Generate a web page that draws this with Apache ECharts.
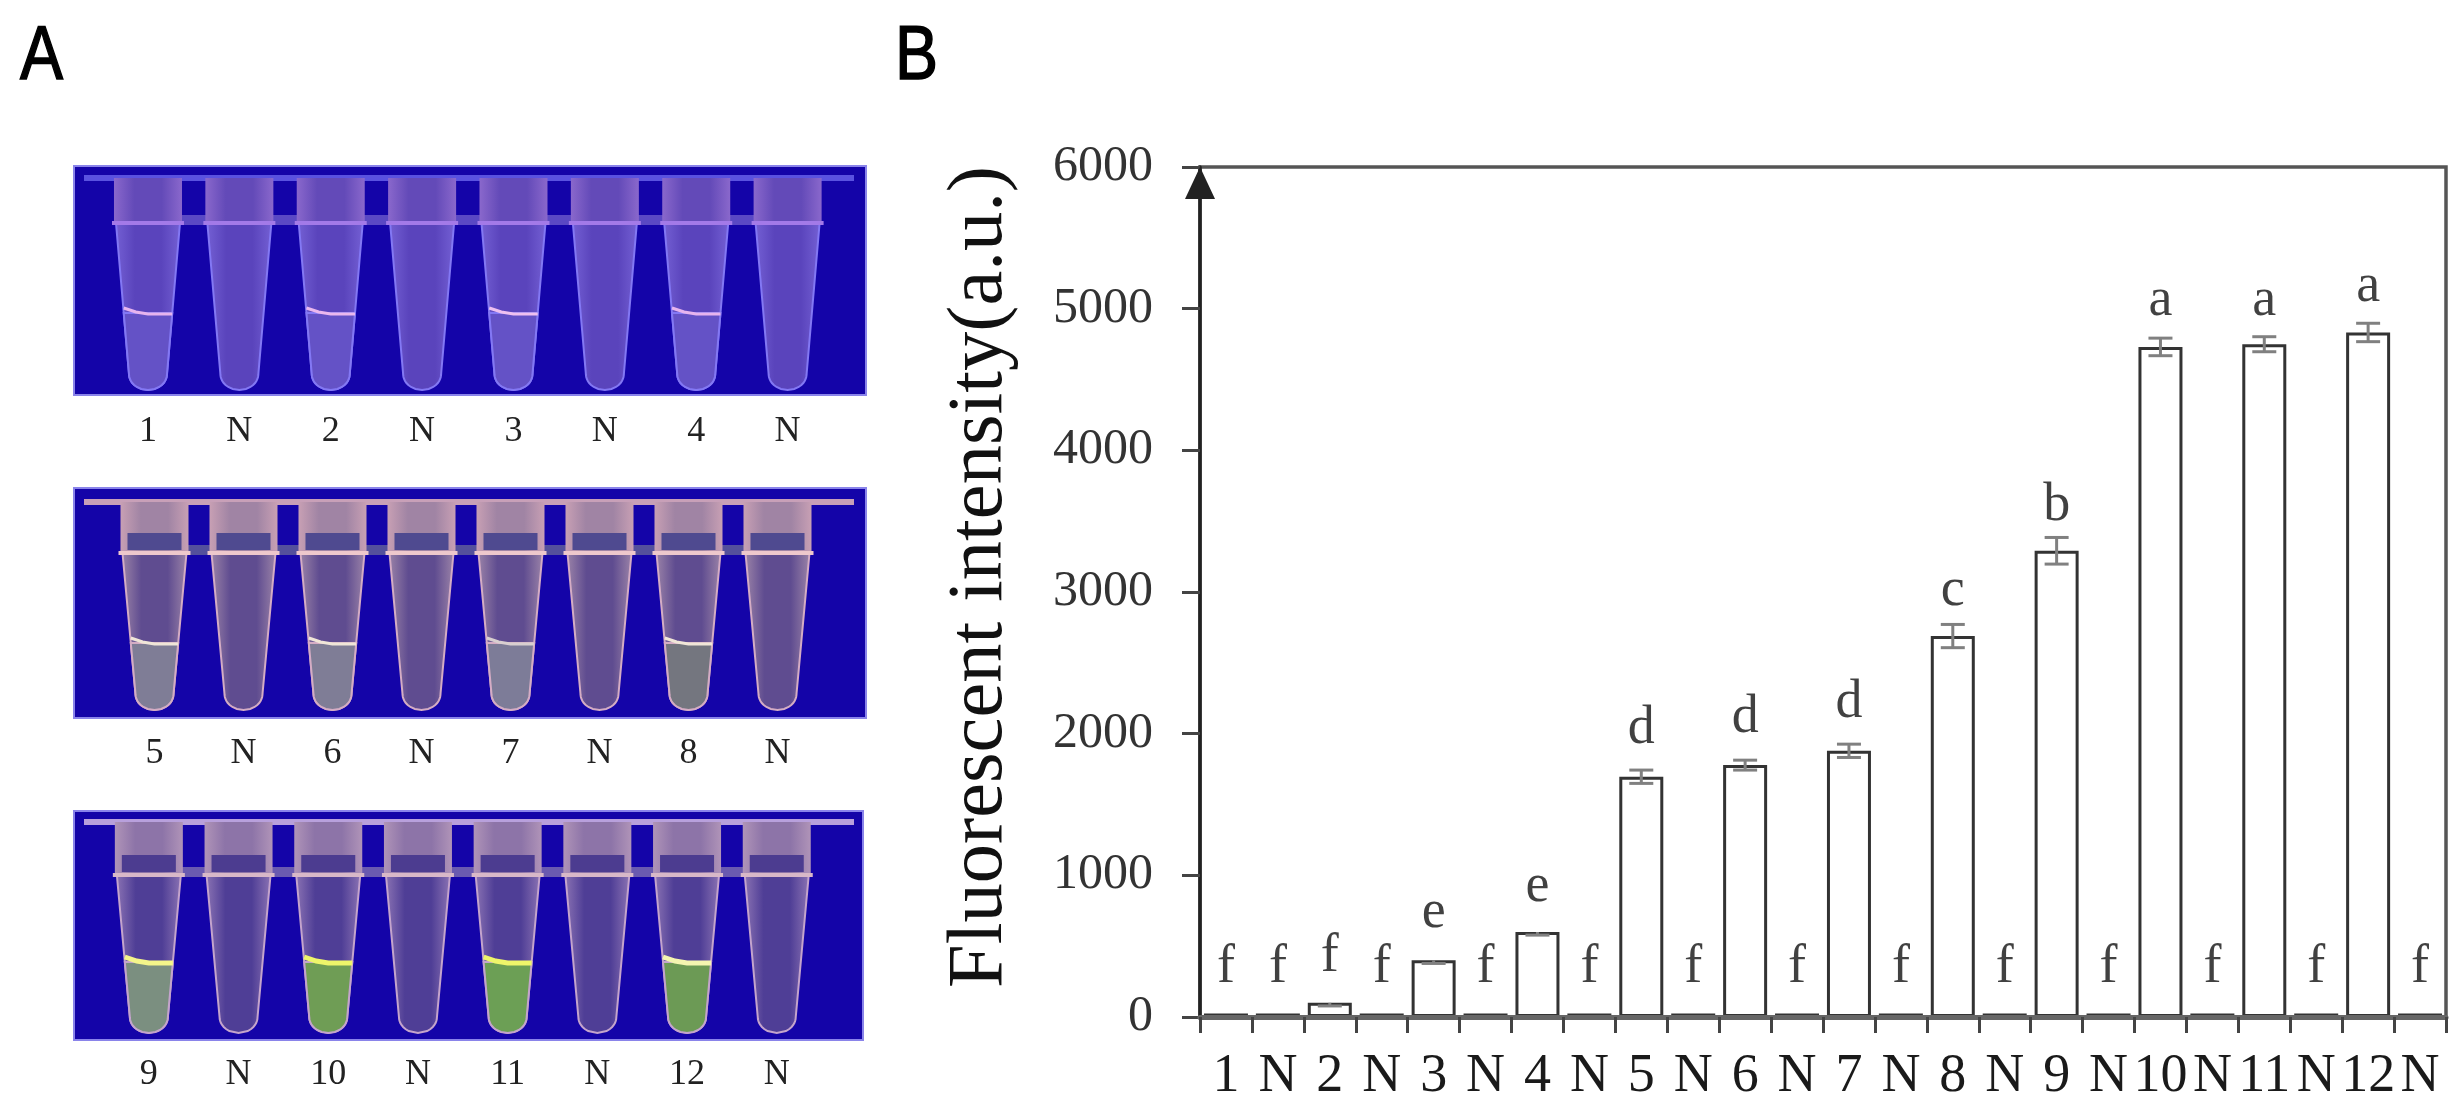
<!DOCTYPE html>
<html><head><meta charset="utf-8">
<style>html,body{margin:0;padding:0;background:#fff}#c{width:2462px;height:1115px}</style>
<script src="https://cdn.jsdelivr.net/npm/echarts@6/dist/echarts.min.js"></script>
</head><body><div id="c"></div>
<script>
// ---- Panel B data ----
const categories = ['1','N','2','N','3','N','4','N','5','N','6','N','7','N','8','N','9','N','10','N','11','N','12','N'];
const intensity  = [25,25,100,25,400,25,600,25,1696,25,1778,25,1879,25,2689,25,3291,25,4730,25,4749,25,4832,25];
const errorUp    = [0,0,0,0,0,0,0,0,47,0,35,0,47,0,82,0,94,0,62,0,53,0,65,0];
const errorDown  = [0,0,22,0,22,0,22,0,47,0,35,0,47,0,82,0,94,0,62,0,53,0,65,0];
const letters    = ['f','f','f','f','e','f','e','f','d','f','d','f','d','f','c','f','b','f','a','f','a','f','a','f'];
const letterBase = [250,250,325,250,637,250,818,250,1933,250,2013,250,2119,250,2907,250,3507,250,4954,250,4954,250,5053,250];
const yTicks = {min:0,max:6000,interval:1000};

// ---- Panel A data ----
const tubeLabels1 = ['1','N','2','N','3','N','4','N'];
const tubeLabels2 = ['5','N','6','N','7','N','8','N'];
const tubeLabels3 = ['9','N','10','N','11','N','12','N'];
const fluid1 = ['#6452c6',null,'#6452c6',null,'#6452c6',null,'#6452c6',null];
const fluid2 = ['#7f7d96',null,'#7f7d96',null,'#7d7c98',null,'#74767f',null];
const fluid3 = ['#7b8f80',null,'#6f9d55',null,'#6c9f55',null,'#6c9a55',null];
const meniscus1 = ['#e6b4ee',null,'#eab8ee',null,'#eec0f0',null,'#e6b4ee',null];
const meniscus2 = ['#f0e6d8',null,'#f0e6d8',null,'#d8cfd0',null,'#f0e6d8',null];
const meniscus3 = ['#f4f58a',null,'#eef56a',null,'#eef56a',null,'#f4f5b0',null];

const panels = [
 {labels:tubeLabels1,fluid:fluid1,men:meniscus1,left:102.3,width:731,top:166,h:229,topY:12,flange:57,tip:224,menY:147,menW:3,
  bodyC:'#5a44bc',bodyE:'#7460d4',capC:'#634ab8',capE:'#8a68cc',edge:'#8378f4',band:null,flangeC:'#a37ae8',conn:'#5a48c4',rim:'#5a52e0',margin:19},
 {labels:tubeLabels2,fluid:fluid2,men:meniscus2,left:110,width:712,top:488,h:230,topY:14,flange:65,tip:222,menY:155,menW:3,
  bodyC:'#5f4c90',bodyE:'#9c84a8',capC:'#a084a4',capE:'#c8a0b4',edge:'#d4acc4',band:'#4f4a90',flangeC:'#eec8cc',conn:'#54509c',rim:'#c8a0b8',margin:18},
 {labels:tubeLabels3,fluid:fluid3,men:meniscus3,left:104,width:717.6,top:811,h:229,topY:11,flange:64,tip:222,menY:151,menW:5,
  bodyC:'#4f3e96',bodyE:'#8c74b4',capC:'#8d74a8',capE:'#b094b8',edge:'#c4a4cc',band:'#4c3c90',flangeC:'#d8b8c8',conn:'#6a5ab0',rim:'#b8a0dc',margin:17}
];
const SERIF='"Liberation Serif","Times New Roman",serif', BLUE='#1404a8';
const hGrad=(e,c)=>new echarts.graphic.LinearGradient(0,0,1,0,[{offset:0,color:e},{offset:.3,color:c},{offset:.7,color:c},{offset:1,color:e}]);

function tubeRenderer(p){
  return function(params,api){
    const i=api.value(0), cx=api.coord([i,0])[0];
    const Y=v=>api.coord([i,v])[1];
    const step=api.size([1,0])[0];
    const hw=y=>{
      const end=p.tip-16, t=(y-p.flange)/(end-p.flange);
      if(t<=1) return 32-13*t;
      const q=Math.min(1,(y-end)/16); return 19*Math.sqrt(Math.max(0,1-q*q));
    };
    const outline=(from)=>{
      const L=[],R=[];
      for(let y=from;y<=p.tip;y+=2){R.push([cx+hw(y),Y(y)]);L.unshift([cx-hw(y),Y(y)]);}
      R.push([cx,Y(p.tip)]);
      return R.concat(L);
    };
    const kids=[];
    if(i<7) kids.push({type:'rect',shape:{x:cx+30,y:Y(p.flange-8),width:step-60,height:10},style:{fill:p.conn},z2:1});
    kids.push({type:'polygon',shape:{points:outline(p.flange)},style:{fill:hGrad(p.bodyE,p.bodyC),stroke:p.edge,lineWidth:2},z2:2});
    kids.push({type:'rect',shape:{x:cx-34,y:Y(p.topY),width:68,height:Y(p.flange)-Y(p.topY)},style:{fill:hGrad(p.capE,p.capC)},z2:3});
    if(p.band) kids.push({type:'rect',shape:{x:cx-27,y:Y(p.flange-20),width:54,height:17},style:{fill:p.band},z2:4});
    kids.push({type:'rect',shape:{x:cx-36,y:Y(p.flange-2),width:72,height:4},style:{fill:p.flangeC},z2:5});
    const f=p.fluid[i];
    if(f) kids.push({type:'polygon',shape:{points:outline(p.menY)},style:{fill:f,stroke:p.edge,lineWidth:2},z2:6});
    const m=p.men[i];
    if(m){
      const w=hw(p.menY);
      kids.push({type:'polyline',shape:{points:[[cx-w,Y(p.menY-5)],[cx-w/2,Y(p.menY-1)],[cx,Y(p.menY+1)],[cx+w,Y(p.menY+1)]]},
        style:{fill:'none',stroke:m,lineWidth:p.menW},z2:7});
    }
    return {type:'group',children:kids};
  };
}

const grids=[],xAxes=[],yAxes=[],series=[],graphics=[];
panels.forEach((p,k)=>{
  grids.push({left:p.left,width:p.width,top:p.top,height:p.h});
  xAxes.push({type:'category',gridIndex:k,data:p.labels,axisLine:{show:false},axisTick:{show:false},splitLine:{show:false},
    axisLabel:{interval:0,margin:p.margin,color:'#222',fontFamily:SERIF,fontSize:36}});
  yAxes.push({type:'value',gridIndex:k,inverse:true,min:0,max:p.h,show:false});
  series.push({type:'custom',xAxisIndex:k,yAxisIndex:k,data:p.labels.map((_,i)=>[i]),encode:{x:0},renderItem:tubeRenderer(p),silent:true});
  graphics.push({type:'rect',z:1,shape:{x:74,y:p.top,width:k==2?789:792,height:p.h},style:{fill:BLUE,stroke:'#8a84ea',lineWidth:2}});
  graphics.push({type:'rect',z:1,shape:{x:84,y:p.top+p.topY-3,width:770,height:6},style:{fill:p.rim}});
});

// Panel B
const B=3;
grids.push({left:1200,right:16,top:167,bottom:98,show:true,borderColor:'#555',borderWidth:3.5,backgroundColor:'transparent'});
xAxes.push({type:'category',gridIndex:B,data:categories,z:6,
  axisLine:{lineStyle:{color:'#666',width:5}},
  axisTick:{show:true,interval:0,alignWithLabel:false,length:16,lineStyle:{color:'#444',width:3}},
  axisLabel:{interval:0,margin:33,color:'#1a1a1a',fontFamily:SERIF,fontSize:54},splitLine:{show:false}});
yAxes.push({type:'value',gridIndex:B,min:yTicks.min,max:yTicks.max,interval:yTicks.interval,
  name:'Fluorescent intensity(a.u.)',nameLocation:'middle',nameRotate:90,nameGap:180,
  nameTextStyle:{fontFamily:SERIF,fontSize:78.5,color:'#111',padding:[0,0,0,30]},
  axisLine:{show:true,symbol:['none','triangle'],symbolSize:[30,32],symbolOffset:[0,-16],lineStyle:{color:'#222',width:3.5}},
  axisTick:{show:true,length:18,lineStyle:{color:'#444',width:3}},
  axisLabel:{margin:47,color:'#333',fontFamily:SERIF,fontSize:50,formatter:v=>String(v)},splitLine:{show:false}});
series.push({type:'bar',xAxisIndex:B,yAxisIndex:B,data:intensity,barWidth:44,
  itemStyle:{color:'#fff',borderColor:'#333',borderWidth:3},silent:true,z:3});
series.push({type:'custom',xAxisIndex:B,yAxisIndex:B,z:4,silent:true,
  data:intensity.map((v,i)=>[i,v,v+errorUp[i],v-errorDown[i]]),encode:{x:0,y:1},
  renderItem(params,api){
    const i=api.value(0),v=api.value(1),hi=api.value(2),lo=api.value(3);
    if(hi===v&&lo===v) return null;
    const c=api.coord([i,v]),a=api.coord([i,hi]),b=api.coord([i,lo]);
    const st={stroke:'#808080',lineWidth:3,fill:'none'},w=12,kids=[];
    kids.push({type:'line',shape:{x1:c[0],y1:a[1],x2:c[0],y2:b[1]},style:st});
    if(hi!==v) kids.push({type:'line',shape:{x1:c[0]-w,y1:a[1],x2:c[0]+w,y2:a[1]},style:st});
    kids.push({type:'line',shape:{x1:c[0]-w,y1:b[1],x2:c[0]+w,y2:b[1]},style:st});
    return {type:'group',children:kids};
  }});
series.push({type:'scatter',xAxisIndex:B,yAxisIndex:B,symbolSize:0,z:5,silent:true,
  data:letterBase.map((v,i)=>[i,v]),
  label:{show:true,position:'inside',offset:[0,-14],formatter:o=>letters[o.dataIndex],
    fontFamily:SERIF,fontSize:54,color:'#111'}});

graphics.push({type:'text',z:10,x:20,y:20,scaleX:.85,style:{text:'A',font:'76px "Liberation Sans",sans-serif',fill:'#000',stroke:'#000',lineWidth:1.5}});
graphics.push({type:'text',z:10,x:895,y:20,scaleX:.85,style:{text:'B',font:'76px "Liberation Sans",sans-serif',fill:'#000',stroke:'#000',lineWidth:1.5}});

const chart=echarts.init(document.getElementById('c'),null,{renderer:'canvas'});
chart.setOption({animation:false,backgroundColor:'#fff',grid:grids,xAxis:xAxes,yAxis:yAxes,series:series,graphic:{elements:graphics}});
</script></body></html>
